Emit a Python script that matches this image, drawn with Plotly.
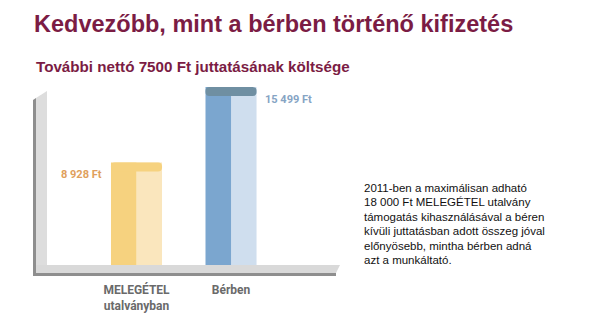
import plotly.graph_objects as go

# --- data -------------------------------------------------------------
categories = ["MELEGÉTEL<br>utalványban", "Bérben"]
values = [8928, 15499]
value_labels = ["8 928 Ft", "15 499 Ft"]

title_text = "Kedvezőbb, mint a bérben történő kifizetés"
subtitle_text = "További nettó 7500 Ft juttatásának költsége"
note_lines = [
    "2011-ben a maximálisan adható",
    "18 000 Ft MELEGÉTEL utalvány",
    "támogatás kihasználásával a béren",
    "kívüli juttatásban adott összeg jóval",
    "előnyösebb, mintha bérben adná",
    "azt a munkáltató.",
]

# --- styling ----------------------------------------------------------
W, H = 600, 331
L, R, T, B = 45, 340, 80, 265          # plot area in pixels
CAP = 800                               # depth of the bar top cap (data units)

front_colors = ["#f6d27f", "#7ba6cf"]
side_colors = ["#fae6bd", "#cfdeee"]
cap_colors = ["#f6d27f", "#6f8fa2"]
label_colors = ["#e0a05c", "#86a4c4"]

MAROON = "#7b1c44"
GREY_TXT = "#6a6a6a"
SANS = "Arial, Liberation Sans, sans-serif"
LABEL_FONT = "Roboto, Arial, sans-serif"


def fx(px):
    return (px - L) / (R - L)


def fy(py):
    return (B - py) / (B - T)


fig = go.Figure()

# light side face of each bar
fig.add_trace(go.Bar(
    x=categories, y=values, width=0.27, offset=0.0,
    marker=dict(color=side_colors, line=dict(width=0)),
    hoverinfo="skip",
))
# darker front face
fig.add_trace(go.Bar(
    x=categories, y=values, width=0.27, offset=-0.27,
    marker=dict(color=front_colors, line=dict(width=0)),
    hoverinfo="skip",
))
# rounded top cap across the full bar width
fig.add_trace(go.Bar(
    x=categories, y=[CAP] * len(values), base=[v - CAP for v in values],
    width=0.54, offset=-0.27,
    marker=dict(color=cap_colors, line=dict(width=0), cornerradius=7),
    hoverinfo="skip",
))

# floor and back wall of the frame
shapes = [
    # left wall (light)
    dict(type="path", xref="paper", yref="paper",
         path=f"M {fx(36)},{fy(98)} L {fx(47)},{fy(91)} L {fx(47)},{fy(265)} L {fx(36)},{fy(273)} Z",
         fillcolor="#dddddd", line=dict(width=0), layer="below"),
    # floor band (light)
    dict(type="path", xref="paper", yref="paper",
         path=f"M {fx(36)},{fy(265)} L {fx(340)},{fy(265)} L {fx(336)},{fy(273)} L {fx(36)},{fy(273)} Z",
         fillcolor="#d9d9d9", line=dict(width=0), layer="below"),
    # dark left edge
    dict(type="path", xref="paper", yref="paper",
         path=f"M {fx(33)},{fy(100)} L {fx(36)},{fy(98)} L {fx(36)},{fy(273)} L {fx(33)},{fy(276)} Z",
         fillcolor="#8e8e8e", line=dict(width=0), layer="below"),
    # dark bottom edge
    dict(type="path", xref="paper", yref="paper",
         path=f"M {fx(33)},{fy(273)} L {fx(336)},{fy(273)} L {fx(336)},{fy(276)} L {fx(33)},{fy(276)} Z",
         fillcolor="#8e8e8e", line=dict(width=0), layer="below"),
]

annotations = [
    dict(text=title_text, xref="paper", yref="paper", x=fx(32), y=fy(24),
         xanchor="left", yanchor="middle", showarrow=False,
         font=dict(family=SANS, size=23.5, color=MAROON, weight="bold")),
    dict(text=subtitle_text, xref="paper", yref="paper", x=fx(34), y=fy(66),
         xanchor="left", yanchor="middle", showarrow=False,
         font=dict(family=SANS, size=15.2, color=MAROON, weight="bold")),
]

# value labels: left of the first bar, right of the second
annotations.append(dict(
    text=value_labels[0], x=categories[0], y=values[0], xref="x", yref="y",
    xanchor="right", yanchor="middle", xshift=-33, yshift=-12, showarrow=False,
    font=dict(family=LABEL_FONT, size=11, color=label_colors[0], weight="bold")))
annotations.append(dict(
    text=value_labels[1], x=categories[1], y=values[1], xref="x", yref="y",
    xanchor="left", yanchor="middle", xshift=32, yshift=-13, showarrow=False,
    font=dict(family=LABEL_FONT, size=11, color=label_colors[1], weight="bold")))

# explanatory paragraph on the right
for i, line in enumerate(note_lines):
    annotations.append(dict(
        text=line, xref="paper", yref="paper", x=fx(362), y=fy(188 + i * 14.4),
        xanchor="left", yanchor="middle", showarrow=False,
        font=dict(family=SANS, size=11.5, color="#111111")))

fig.update_layout(
    width=W, height=H,
    margin=dict(l=L, r=W - R, t=T, b=H - B, pad=0),
    paper_bgcolor="white", plot_bgcolor="rgba(0,0,0,0)",
    barmode="overlay", showlegend=False,
    shapes=shapes, annotations=annotations,
    xaxis=dict(type="category", range=[-0.968, 2.153], showgrid=False,
               zeroline=False, showline=False, ticks="",
               tickfont=dict(family=LABEL_FONT, size=12, color=GREY_TXT, weight="bold"),
               ticklabelstandoff=16, fixedrange=True),
    yaxis=dict(range=[0, 16100], visible=False, fixedrange=True),
)

fig.write_html("out.html", config={"displayModeBar": False})
